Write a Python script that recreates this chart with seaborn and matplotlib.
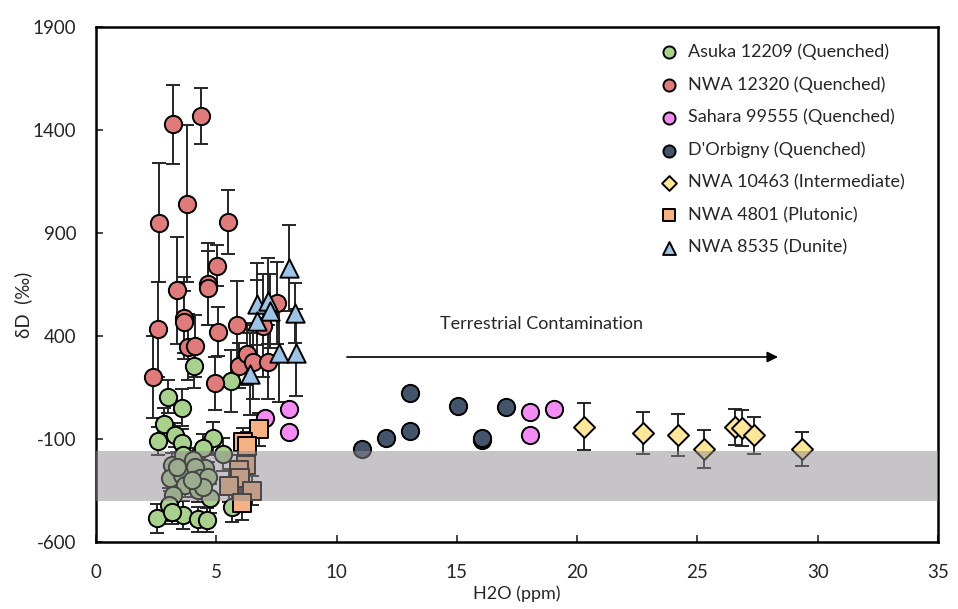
import numpy as np
import pandas as pd
import matplotlib
matplotlib.use("Agg")
import matplotlib.pyplot as plt
import seaborn as sns

# ---------------- data ----------------
asuka_x = [4.09, 5.60, 3.00, 3.56, 2.84, 2.59, 3.28, 3.56, 4.88, 4.46, 5.29,
           3.15, 3.63, 4.04, 4.53, 3.08, 3.56, 4.11, 4.32, 4.67, 3.70, 3.21,
           4.25, 4.74, 4.46, 3.98, 3.35, 3.05, 2.52, 3.63, 4.25, 4.60, 5.64, 3.15]
asuka_y = [256, 182, 105, 52, -29, -110, -81, -121, -97, -145, -174,
           -226, -178, -202, -242, -291, -275, -234, -291, -283, -323, -372,
           -348, -388, -332, -299, -234, -420, -485, -469, -490, -493, -432, -453]
asuka_e = [110, 150, 80, 90, 80, 70, 60, 70, 80, 70, 80,
           60, 70, 60, 70, 60, 70, 60, 60, 70, 60, 70,
           60, 70, 60, 60, 70, 80, 70, 70, 60, 60, 70, 60]

nwa12320_x = [3.21, 4.36, 3.77, 2.62, 5.50, 2.59, 3.35, 5.01, 4.64, 4.67, 3.67, 3.67,
              5.08, 5.85, 3.83, 4.11, 2.38, 4.96, 5.94, 6.26, 6.54, 7.16, 6.95, 7.51]
nwa12320_y = [1427, 1468, 1042, 950, 955, 432, 623, 741, 651, 632, 486, 469,
              421, 453, 348, 351, 200, 170, 256, 311, 274, 274, 449, 559]
nwa12320_e = [190, 137, 380, 290, 155, 230, 260, 100, 200, 180, 200, 150,
              120, 215, 160, 150, 200, 130, 110, 150, 180, 180, 250, 200]

sahara_x = [7.04, 8.04, 8.04, 18.04, 19.04, 18.04]
sahara_y = [0, 46, -65, 33, 44, -82]

dorb_x = [11.04, 12.04, 13.05, 13.05, 15.05, 17.04, 16.04, 16.04]
dorb_y = [-147, -95, -61, 125, 60, 55, -105, -93]

nwa10463_x = [20.3, 22.72, 24.2, 25.27, 26.56, 26.84, 27.36, 29.33]
nwa10463_y = [-40, -72, -81, -149, -43, -48, -81, -149]
nwa10463_e = [113, 102, 100, 94, 88, 88, 90, 84]

nwa4801_x = [6.77, 6.12, 6.26, 6.23, 5.96, 5.99, 5.54, 6.47, 6.06]
nwa4801_y = [-53, -116, -134, -228, -250, -291, -328, -352, -412]
nwa4801_e = [80, 70, 70, 80, 70, 70, 80, 70, 80]

nwa8535_x = [8.04, 6.71, 7.13, 7.22, 8.27, 6.71, 7.62, 8.31, 6.40]
nwa8535_y = [729, 555, 571, 523, 513, 474, 319, 319, 215]
nwa8535_e = [210, 200, 210, 180, 145, 200, 240, 210, 200]

x_ticks = [0, 5, 10, 15, 20, 25, 30, 35]
y_ticks = [-600, -100, 400, 900, 1400, 1900]
band = (-400, -160)
arrow_x = (10.43, 28.35)
arrow_y = 298

# ---------------- style ----------------
sns.set_theme(style="ticks")
plt.rcParams['font.family'] = ['Lato', 'DejaVu Sans']
plt.rcParams['axes.unicode_minus'] = False

fig = plt.figure(figsize=(9.58, 6.09), dpi=100)
ax = fig.add_axes([96/958, 1-542/609, (938-96)/958, (542-27)/609])

series = [
    ("Asuka 12209 (Quenched)", asuka_x, asuka_y, asuka_e, "o", "#a9d18e", 155),
    ("NWA 12320 (Quenched)", nwa12320_x, nwa12320_y, nwa12320_e, "o", "#e07b7b", 155),
    ("Sahara 99555 (Quenched)", sahara_x, sahara_y, None, "o", "#f28bf2", 155),
    ("D'Orbigny (Quenched)", dorb_x, dorb_y, None, "o", "#44546a", 155),
    ("NWA 10463 (Intermediate)", nwa10463_x, nwa10463_y, nwa10463_e, "D", "#ffe699", 115),
    ("NWA 4801 (Plutonic)", nwa4801_x, nwa4801_y, nwa4801_e, "s", "#f4b183", 155),
    ("NWA 8535 (Dunite)", nwa8535_x, nwa8535_y, nwa8535_e, "^", "#9dc3e6", 175),
]

for label, xs, ys, es, mk, col, s in series:
    if es is not None:
        ax.errorbar(xs, ys, yerr=es, fmt='none', ecolor='#262626',
                    elinewidth=1.4, capsize=5, capthick=1.4, zorder=2)
    df = pd.DataFrame({"x": xs, "y": ys})
    sns.scatterplot(data=df, x="x", y="y", ax=ax, marker=mk, color=col, s=s,
                    edgecolor="black", linewidth=1.4, label=label, zorder=3)

ax.axhspan(band[0], band[1], color="#8e8a8e", alpha=0.5, lw=0, zorder=4)

ax.annotate('', xy=(arrow_x[1], arrow_y), xytext=(arrow_x[0], arrow_y),
            arrowprops=dict(arrowstyle='-|>', color='black', lw=1.2,
                            mutation_scale=16, shrinkA=0, shrinkB=0), zorder=5)
ax.text(18.5, 458, "Terrestrial Contamination",
        ha='center', va='center', fontsize=13)

ax.set_xlim(0, 35)
ax.set_ylim(-600, 1900)
ax.set_xticks(x_ticks)
ax.set_yticks(y_ticks)
ax.tick_params(direction='in', length=5, width=1.2, labelsize=13.5)
ax.tick_params(axis='x', pad=16)
ax.tick_params(axis='y', pad=14)
for sp in ax.spines.values():
    sp.set_visible(True)
    sp.set_linewidth(1.8)
    sp.set_color('black')

ax.set_xlabel("H2O (ppm)", fontsize=13, labelpad=3)
ax.set_ylabel("δD  (‰)", fontsize=13.5)
ax.yaxis.set_label_coords(-0.076, 0.46)

leg = ax.legend(loc='upper left', bbox_to_anchor=(0.64, 1.0), frameon=False,
                fontsize=13, handletextpad=0.05, labelspacing=0.9,
                markerscale=0.7, borderaxespad=0.5)

fig.savefig("out.png", dpi=100)
